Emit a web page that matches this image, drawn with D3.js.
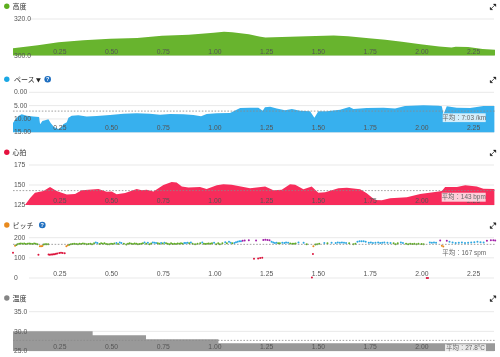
<!DOCTYPE html>
<html>
<head>
<meta charset="utf-8">
<style>
  html, body { margin: 0; padding: 0; background: #fff; }
  svg { display: block; filter: blur(0.3px); }
  text { font-family: "Liberation Sans", "Noto Sans CJK JP", sans-serif; }
</style>
<script src="https://cdn.jsdelivr.net/npm/d3@7"></script>
</head>
<body>
<svg id="chart" width="500" height="357"></svg>
<script>
// distance in km
const kmTicks = [0.25, 0.5, 0.75, 1, 1.25, 1.5, 1.75, 2, 2.25];

const elevation = [[0,304],[0.12,305.6],[0.22,307.2],[0.34,308.4],[0.47,309.2],[0.6,309.6],[0.72,310.8],[0.85,311.4],[0.97,312.5],[1.02,313],[1.06,312.8],[1.14,311.6],[1.19,310.4],[1.22,309.8],[1.3,310.2],[1.42,310.6],[1.55,310.9],[1.62,310.5],[1.72,309.4],[1.8,308.6],[1.88,307.6],[1.97,306.2],[2.06,305],[2.12,304.4],[2.14,304.8],[2.2,304.6],[2.27,303.6],[2.33,303.2]];
const elevationTicks = [300, 320];

const pace = [[0,11.5],[0.01,10.25],[0.026,8.9],[0.042,8.25],[0.066,8.75],[0.098,9.1],[0.126,9.25],[0.131,12],[0.142,10.75],[0.155,10.5],[0.171,10.1],[0.182,11.5],[0.198,13],[0.219,13.75],[0.235,13],[0.243,12],[0.26,11.25],[0.268,9.5],[0.284,8.75],[0.316,8.6],[0.356,9.1],[0.405,8.9],[0.469,8.5],[0.534,8],[0.598,7.9],[0.662,8],[0.711,8.4],[0.759,8.1],[0.824,8.25],[0.872,8.5],[0.909,9],[0.936,8.1],[0.985,7.9],[1.049,7.75],[1.098,5.9],[1.146,5.75],[1.186,5.75],[1.207,6.9],[1.218,5.6],[1.243,5.4],[1.275,6.1],[1.315,6.75],[1.348,6.25],[1.388,6.9],[1.436,7.1],[1.457,9.5],[1.476,7.1],[1.517,7.1],[1.581,6.5],[1.626,5.5],[1.646,6.25],[1.71,5.9],[1.791,5.75],[1.847,6.1],[1.895,5.1],[1.984,4.9],[2.057,5],[2.073,5.25],[2.081,8.25],[2.097,5.25],[2.145,5.75],[2.21,5.9],[2.274,5.1],[2.327,5.1]];
const paceTicks = [0, 5, 10, 15];
const paceLabels = ["0.00", "5.00", "10.00", "15.00"];

const heartRate = [[0,125],[0.058,125],[0.082,133.3],[0.106,140.4],[0.147,142.5],[0.179,147.5],[0.211,142.5],[0.26,138],[0.3,138.8],[0.332,143.3],[0.413,145],[0.453,141.7],[0.477,142],[0.501,138.3],[0.542,140],[0.598,145],[0.622,143.3],[0.646,144.2],[0.679,142],[0.727,150],[0.767,153.8],[0.791,153],[0.816,148],[0.848,147],[0.904,147.5],[0.936,145],[0.985,149.6],[1.017,150.8],[1.057,150.4],[1.146,146],[1.219,148],[1.259,143.3],[1.299,144.2],[1.339,150.8],[1.364,150.4],[1.404,144.6],[1.444,148],[1.476,140.4],[1.509,140.8],[1.573,145.8],[1.614,146.7],[1.678,144.6],[1.71,139.6],[1.75,131.3],[1.783,130.8],[1.823,133.3],[1.904,134.6],[1.968,138.8],[2.049,141.7],[2.073,142.5],[2.089,147.5],[2.146,147.5],[2.186,149.6],[2.242,148],[2.274,145.4],[2.327,145]];
const heartRateTicks = [125, 150, 175];

const cadence = [[0,125],[0.01,160],[0.016,164],[0.022,168],[0.03,170],[0.038,171],[0.046,170],[0.054,171],[0.062,169],[0.07,170],[0.078,171],[0.086,170],[0.094,169],[0.102,171],[0.11,170],[0.118,168],[0.123,115],[0.13,158],[0.136,157],[0.142,159],[0.148,166],[0.155,167],[0.162,168],[0.17,167],[0.172,117],[0.178,116],[0.184,117],[0.19,117],[0.196,118],[0.202,118],[0.208,120],[0.214,121],[0.224,124],[0.232,125],[0.24,124],[0.25,123],[0.258,158],[0.265,162],[0.272,165],[0.28,168],[0.288,169],[0.296,170],[0.305,169],[0.314,168],[0.322,170],[0.33,169],[0.338,171],[0.347,170],[0.356,168],[0.365,169],[0.374,170],[0.382,167],[0.392,172],[0.4,176],[0.408,174],[0.418,169],[0.426,172],[0.434,170],[0.442,173],[0.45,169],[0.458,168],[0.466,167],[0.474,170],[0.482,169],[0.49,171],[0.5,174],[0.508,169],[0.516,176],[0.524,174],[0.536,170],[0.548,166],[0.556,170],[0.564,172],[0.572,170],[0.58,169],[0.588,171],[0.596,170],[0.604,168],[0.612,169],[0.62,170],[0.628,172],[0.636,176],[0.644,170],[0.652,175],[0.66,168],[0.668,171],[0.676,176],[0.684,175],[0.692,174],[0.7,172],[0.708,170],[0.716,174],[0.724,171],[0.732,175],[0.74,173],[0.748,170],[0.756,168],[0.764,172],[0.772,169],[0.78,170],[0.788,169],[0.796,171],[0.804,170],[0.812,172],[0.82,170],[0.828,174],[0.836,174],[0.844,175],[0.852,172],[0.86,176],[0.868,170],[0.88,168],[0.892,170],[0.905,172],[0.915,176],[0.923,170],[0.93,169],[0.938,170],[0.946,171],[0.954,170],[0.962,172],[0.972,175],[0.982,168],[0.992,172],[1.0,167],[1.012,172],[1.026,178],[1.034,172],[1.044,180],[1.052,175],[1.06,172],[1.07,174],[1.078,178],[1.086,180],[1.094,182],[1.102,183],[1.11,185],[1.12,186],[1.14,187],[1.165,95],[1.175,186],[1.185,97],[1.195,99],[1.205,101],[1.21,189],[1.22,190],[1.23,189],[1.24,187],[1.25,180],[1.258,176],[1.266,174],[1.274,175],[1.282,172],[1.29,173],[1.302,175],[1.312,174],[1.32,176],[1.33,175],[1.34,171],[1.35,170],[1.358,170],[1.366,171],[1.38,176],[1.405,175],[1.42,168],[1.445,2],[1.45,119],[1.452,157],[1.462,166],[1.47,168],[1.48,170],[1.505,174],[1.52,173],[1.54,175],[1.56,174],[1.57,176],[1.58,175],[1.59,176],[1.6,175],[1.61,174],[1.625,172],[1.645,168],[1.655,170],[1.665,180],[1.675,182],[1.685,183],[1.695,183],[1.705,180],[1.72,175],[1.73,176],[1.74,174],[1.752,175],[1.765,176],[1.775,174],[1.785,175],[1.795,176],[1.81,175],[1.825,174],[1.84,172],[1.85,168],[1.86,172],[1.875,176],[1.885,174],[1.9,170],[1.91,168],[1.92,170],[1.93,169],[1.94,170],[1.95,168],[1.96,170],[1.975,169],[1.985,168],[2.0,0],[2.006,0],[2.015,176],[2.025,175],[2.035,176],[2.045,175],[2.065,186],[2.073,160],[2.08,156],[2.097,185],[2.11,180],[2.125,176],[2.14,174],[2.155,175],[2.17,176],[2.185,174],[2.2,175],[2.215,176],[2.23,178],[2.245,180],[2.26,177],[2.275,176],[2.291,185],[2.31,187],[2.322,187],[2.331,186]];
const cadenceTicks = [0, 100, 200];
const cadenceBreaks = [153, 164, 174, 184];
const cadenceColors = ["#dc143c", "#e88a1e", "#5fae22", "#2ea8e2", "#a11fa8"];

const temperature = [[0,30],[0.385,29],[0.643,28],[0.993,27],[2.33,27]];
const temperatureTicks = [25, 30, 35];

const x = d3.scaleLinear().domain([0, 2.33]).range([13, 495]);
const svg = d3.select("#chart");

// one row: icon + title on top, grid, filled area or dots, km labels, average
function addPanel(p) {
  const y = d3.scaleLinear().domain(p.domain).range(p.range);
  const g = svg.append("g");

  g.append("circle").attr("cx", 6.8).attr("cy", p.titleY).attr("r", 2.7).attr("fill", p.dot);
  g.append("text").attr("x", p.titleX || 12.5).attr("y", p.titleY + 2.5)
    .attr("font-size", 7).attr("fill", "#333").text(p.title);

  if (p.caret) {
    g.append("path").attr("d", d3.symbol(d3.symbolTriangle, 10)())
      .attr("transform", `translate(38.4,${p.titleY + 0.4}) rotate(180)`).attr("fill", "#222");
  }
  if (p.helpX) {
    g.append("circle").attr("cx", p.helpX).attr("cy", p.titleY).attr("r", 3.3).attr("fill", "#1f6fc0");
    g.append("text").attr("x", p.helpX).attr("y", p.titleY + 2.1).attr("text-anchor", "middle")
      .attr("font-size", 5.5).attr("font-weight", "bold").attr("fill", "#fff").text("?");
  }

  // expand icon
  const icon = g.append("g").attr("transform", `translate(493,${p.titleY + 0.6})`)
    .attr("fill", "#111").attr("stroke", "#111");
  icon.append("path").attr("d", "M0.4,-2.8 L2.8,-2.8 L2.8,-0.4 Z").attr("stroke-width", 0.4);
  icon.append("path").attr("d", "M-0.4,2.8 L-2.8,2.8 L-2.8,0.4 Z").attr("stroke-width", 0.4);
  icon.append("path").attr("d", "M-1.5,1.5 L1.5,-1.5").attr("stroke-width", 0.7);

  const grid = g.append("g");
  grid.selectAll("line").data(p.ticks).join("line")
    .attr("x1", 29).attr("x2", 494).attr("y1", d => y(d)).attr("y2", d => y(d))
    .attr("stroke", "#e9e9e9");

  if (p.area) {
    const area = d3.area().x(d => x(d[0])).y0(y(p.domain[0])).y1(d => y(d[1]));
    if (p.curve) area.curve(p.curve);
    g.append("path").datum(p.area).attr("d", area).attr("fill", p.fill);
  }
  if (p.points) {
    const zone = d3.scaleThreshold().domain(cadenceBreaks).range(cadenceColors);
    g.selectAll("circle.pt").data(p.points).join("circle").attr("class", "pt")
      .attr("cx", d => x(d[0])).attr("cy", d => y(d[1])).attr("r", 1)
      .attr("fill", d => zone(d[1]));
  }

  // labels sit on top of the fill
  const yAxis = d3.axisLeft(y).tickValues(p.ticks).tickSize(0)
    .tickFormat((d, i) => p.labels ? p.labels[i] : (p.fixed ? d.toFixed(1) : d));
  const axisG = g.append("g").attr("transform", "translate(13,0)").call(yAxis);
  axisG.select(".domain").remove();
  axisG.selectAll("text").attr("x", 1).attr("dy", "0.32em").attr("text-anchor", "start")
    .attr("font-family", "Liberation Sans").attr("font-size", 6.8).attr("fill", "#555")
    .attr("transform", "translate(0,-0.5)");

  const xAxis = d3.axisBottom(x).tickValues(kmTicks).tickSize(0).tickFormat(d3.format(".2f"));
  const xG = g.append("g").attr("transform", `translate(0,${p.kmY})`).call(xAxis);
  xG.select(".domain").remove();
  xG.selectAll("text").attr("y", 0).attr("dy", "0.32em").attr("dx", -5.4)
    .attr("font-family", "Liberation Sans").attr("font-size", 6.8).attr("fill", "#555");

  if (p.avgText) {
    g.append("line").attr("x1", 13).attr("x2", 495).attr("y1", y(p.avg)).attr("y2", y(p.avg))
      .attr("stroke", "#8a8a8a").attr("stroke-width", 0.8).attr("stroke-dasharray", "1.6,1.6");
    const box = g.append("g").attr("transform", `translate(${p.box[0]},${p.box[1]})`);
    box.append("rect").attr("width", p.box[2]).attr("height", p.box[3])
      .attr("fill", "#fff").attr("fill-opacity", 0.78);
    box.append("text").attr("x", p.box[2] / 2).attr("y", p.box[3] / 2 + 2.2).attr("text-anchor", "middle")
      .attr("font-size", 6.4).attr("fill", "#666").text(p.avgText);
  }
}

addPanel({ title: "高度", titleY: 6.3, dot: "#5cae1e", fill: "#68b42e", area: elevation,
  domain: [300, 320], range: [55.5, 19], ticks: elevationTicks, fixed: true, kmY: 51.7 });

addPanel({ title: "ペース", titleX: 14, titleY: 79.3, dot: "#1aa7e4", fill: "#37b0ee", area: pace,
  caret: true, helpX: 47.7,
  domain: [15, 0], range: [132.3, 92.3], ticks: paceTicks, labels: paceLabels, kmY: 128.3,
  avg: 7.05, box: [442.7, 113.3, 43, 8.8], avgText: "平均：7:03 /km" });

addPanel({ title: "心拍", titleY: 152.3, dot: "#e5123f", fill: "#f72c5b", area: heartRate,
  domain: [125, 175], range: [205, 165], ticks: heartRateTicks, kmY: 201.3,
  avg: 143, box: [441.7, 192.7, 44, 9], avgText: "平均：143 bpm" });

addPanel({ title: "ピッチ", titleY: 225, dot: "#e88a1e", points: cadence, helpX: 42.3,
  domain: [0, 200], range: [278, 237.7], ticks: cadenceTicks, kmY: 274.3,
  avg: 167, box: [442.7, 248, 43, 9], avgText: "平均：167 spm" });

addPanel({ title: "温度", titleY: 298, dot: "#858585", fill: "#999999", area: temperature,
  curve: d3.curveStepAfter,
  domain: [25, 35], range: [351, 311.7], ticks: temperatureTicks, fixed: true, kmY: 347.3,
  avg: 27.7, box: [445, 344.3, 41, 7.4], avgText: "平均：27.8°C" });
</script>
</body>
</html>
